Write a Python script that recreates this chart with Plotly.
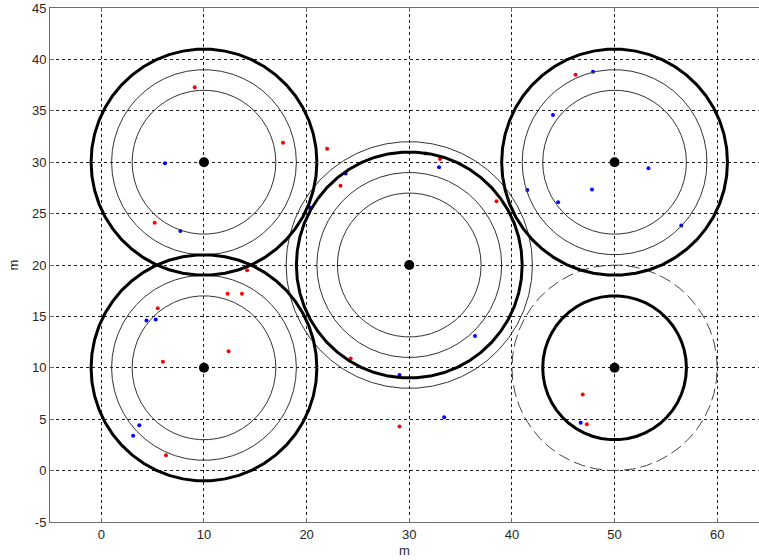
import numpy as np
import plotly.graph_objects as go

# Node centres (m)
center_x = [10, 10, 30, 50, 50]
center_y = [30, 10, 20, 30, 10]

# Coverage radii per node (m)
thick_radius = [11, 11, 11, 11, 7]
thin_radii = [[9, 7], [9, 7], [12, 9, 7], [9, 7], []]
dashed_radius = [None, None, None, None, 10]

# Measured positions (m)
red_x = [9.1, 17.7, 22.0, 23.3, 31.6, 33.0, 38.5, 46.2, 5.2, 14.2, 12.3, 13.7,
         5.5, 12.4, 6.0, 6.3, 24.3, 29.05, 46.9, 47.3]
red_y = [37.3, 31.9, 31.3, 27.7, 30.85, 30.3, 26.2, 38.5, 24.1, 19.5, 17.2, 17.2,
         15.8, 11.6, 10.6, 1.5, 10.9, 4.3, 7.4, 4.5]

blue_x = [6.2, 7.7, 23.8, 20.3, 32.9, 36.4, 29.05, 33.4, 41.5, 47.9, 44.0, 53.3,
          47.8, 44.5, 56.5, 4.4, 5.3, 3.7, 3.1, 46.7]
blue_y = [29.9, 23.3, 28.9, 25.6, 29.5, 13.1, 9.3, 5.2, 27.3, 38.8, 34.6, 29.4,
          27.35, 26.1, 23.85, 14.6, 14.7, 4.4, 3.4, 4.65]

x_ticks = [0, 10, 20, 30, 40, 50, 60]
y_ticks = [-5, 0, 5, 10, 15, 20, 25, 30, 35, 40, 45]
y_tick_labels = ["-5", "0", "5", "10", "15", "20", "25", "30", "35", "40", "45"]

theta = np.linspace(0, 2 * np.pi, 51)


def ring(cx, cy, r):
    return cx + r * np.cos(theta), cy + r * np.sin(theta)


fig = go.Figure()

fig.add_trace(go.Scatter(x=red_x, y=red_y, mode="markers",
                         marker=dict(color="#ff0000", size=4),
                         showlegend=False))
fig.add_trace(go.Scatter(x=blue_x, y=blue_y, mode="markers",
                         marker=dict(color="#0000ff", size=4),
                         showlegend=False))

for cx, cy, radii in zip(center_x, center_y, thin_radii):
    for r in radii:
        xs, ys = ring(cx, cy, r)
        fig.add_trace(go.Scatter(x=xs, y=ys, mode="lines",
                                 line=dict(color="#333333", width=1),
                                 showlegend=False, hoverinfo="skip"))

for cx, cy, r in zip(center_x, center_y, dashed_radius):
    if r is not None:
        xs, ys = ring(cx, cy, r)
        fig.add_trace(go.Scatter(x=xs, y=ys, mode="lines",
                                 line=dict(color="#444444", width=1, dash="12px,5px"),
                                 showlegend=False, hoverinfo="skip"))

for cx, cy, r in zip(center_x, center_y, thick_radius):
    xs, ys = ring(cx, cy, r)
    fig.add_trace(go.Scatter(x=xs, y=ys, mode="lines",
                             line=dict(color="#000000", width=3),
                             showlegend=False, hoverinfo="skip"))

fig.add_trace(go.Scatter(x=center_x, y=center_y, mode="markers",
                         marker=dict(color="#000000", size=10),
                         showlegend=False))

label_font = dict(family="Liberation Sans, Arial", size=13, color="#262626")

axis_common = dict(
    showgrid=True, gridcolor="#1a1a1a", griddash="3px,3px", gridwidth=1,
    zeroline=False, showline=True, linecolor="#6e6e6e", linewidth=1,
    ticks="inside", ticklen=4, tickcolor="#6e6e6e",
    tickfont=label_font,
)

fig.update_layout(
    width=759, height=560,
    margin=dict(l=50, r=0, t=8, b=38),
    paper_bgcolor="white", plot_bgcolor="white",
    xaxis=dict(range=[-5, 64.07], tickvals=x_ticks, mirror="ticks",
               title=dict(text="m", standoff=5, font=label_font),
               **axis_common),
    yaxis=dict(range=[-5, 45], tickvals=y_ticks, ticktext=y_tick_labels,
               title=dict(text="m", standoff=10, font=label_font),
               **axis_common),
)

fig.write_html("out.html")
